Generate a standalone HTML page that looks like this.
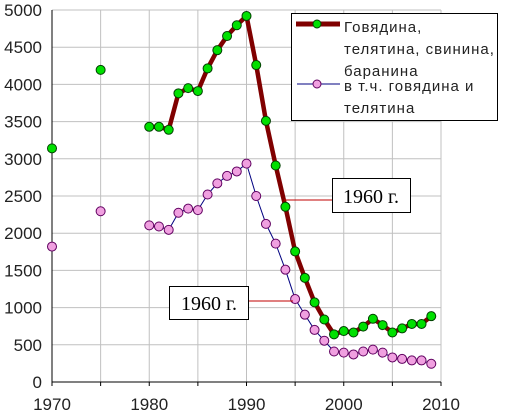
<!DOCTYPE html>
<html><head><meta charset="utf-8"><style>
body{margin:0;background:#fff;}
svg{display:block;font-family:"Liberation Sans",sans-serif;}
.lg{letter-spacing:1px;}
</style></head><body>
<svg id="chart" width="506" height="415">
<g id="grid"></g>
<g id="axes"></g>
<g id="series"></g>
<g>
<line x1="284" y1="200" x2="332" y2="200" stroke="#c00000" stroke-width="1"/>
<rect x="332.5" y="178.5" width="78" height="34" fill="#fff" stroke="#000"/>
<text x="371" y="203" text-anchor="middle" font-family="Liberation Serif,serif" font-size="20">1960 г.</text>
</g>
<g>
<line x1="248" y1="301" x2="293" y2="301" stroke="#c00000" stroke-width="1"/>
<rect x="169.5" y="286.5" width="79" height="33" fill="#fff" stroke="#000"/>
<text x="209" y="310" text-anchor="middle" font-family="Liberation Serif,serif" font-size="20">1960 г.</text>
</g>
<g>
<rect x="291.5" y="13.5" width="206" height="107" fill="#fff" stroke="#000"/>
<g>
<line x1="296" y1="24" x2="340" y2="24" stroke="#800000" stroke-width="5"/>
<circle cx="317" cy="24" r="4" fill="#00e000" stroke="#004000"/>
<text class="lg" x="344" y="32" font-size="15" fill="#222">Говядина,</text>
<text class="lg" x="344" y="54" font-size="15" fill="#222">телятина, свинина,</text>
<text class="lg" x="344" y="76" font-size="15" fill="#222">баранина</text>
</g>
<g>
<line x1="297" y1="84" x2="340" y2="84" stroke="#000080" stroke-width="1"/>
<circle cx="317" cy="84" r="4" fill="#f0a0e0" stroke="#600060"/>
<text class="lg" x="344" y="91" font-size="15" fill="#222">в т.ч. говядина и</text>
<text class="lg" x="344" y="113" font-size="15" fill="#222">телятина</text>
</g>
</g>
</svg>
<script>
const years=[1970,1975,1980,1981,1982,1983,1984,1985,1986,1987,1988,1989,1990,1991,1992,1993,1994,1995,1996,1997,1998,1999,2000,2001,2002,2003,2004,2005,2006,2007,2008,2009];
const totalMeat=[3140,4195,3430,3430,3390,3880,3950,3910,4215,4460,4650,4795,4920,4260,3510,2910,2355,1755,1400,1070,840,640,685,665,745,850,765,665,720,780,780,885];
const beefVeal=[1820,2295,2105,2090,2045,2275,2330,2310,2520,2670,2770,2830,2935,2500,2125,1860,1510,1115,905,700,555,410,395,370,410,435,395,330,310,290,290,245];
const xTicks=[1970,1980,1990,2000,2010];
const yTicks=[0,500,1000,1500,2000,2500,3000,3500,4000,4500,5000];
const NS="http://www.w3.org/2000/svg";
const X=v=>52+(v-1970)*(441-52)/40;
const Y=v=>382-v*(382-10)/5000;
function mk(t,a,p){const e=document.createElementNS(NS,t);for(const k in a)e.setAttribute(k,a[k]);p.appendChild(e);return e;}
const grid=document.getElementById('grid'),axes=document.getElementById('axes'),ser=document.getElementById('series');
for(let yr=1970;yr<=2010;yr+=5){const l=mk('line',{x1:X(yr),x2:X(yr),y1:Y(0),y2:Y(5000),stroke:'#c0c0c0','stroke-width':1},grid);

}
yTicks.forEach(v=>{const l=mk('line',{x1:X(1970),x2:X(2010),y1:Y(v),y2:Y(v),stroke:'#c0c0c0','stroke-width':1},grid);


const t=mk('text',{x:42,y:Y(v)+6,'text-anchor':'end','font-size':17,fill:'#222'},axes);t.textContent=v;

});
xTicks.forEach(v=>{const t=mk('text',{x:X(v),y:410,'text-anchor':'middle','font-size':17,fill:'#222'},axes);t.textContent=v;

});
mk('line',{x1:X(1970),x2:X(1970),y1:Y(0),y2:Y(5000),stroke:'#000'},axes);
mk('line',{x1:X(1970),x2:X(2010),y1:Y(0),y2:Y(0),stroke:'#000'},axes);
for(let yr=1970;yr<=2010;yr+=5)mk('line',{x1:X(yr),x2:X(yr),y1:Y(0),y2:Y(0)+4,stroke:'#000'},axes);
function draw(vals,lineC,lw,fill,stroke,name){
 const idx=years.map((y,i)=>i).filter(i=>years[i]>=1980);
 const p=mk('polyline',{points:idx.map(i=>X(years[i])+','+Y(vals[i])).join(' '),fill:'none',stroke:lineC,'stroke-width':lw,'stroke-linejoin':'round'},ser);
 
 
 years.forEach((y,i)=>{const c=mk('circle',{cx:X(y),cy:Y(vals[i]),r:4.5,fill:fill,stroke:stroke,'stroke-width':1},ser);
 
 });
}
draw(totalMeat,'#800000',4.5,'#00e000','#004000','total-meat');
draw(beefVeal,'#000080',1,'#f0a0e0','#600060','beef-veal');
</script>
</body></html>
